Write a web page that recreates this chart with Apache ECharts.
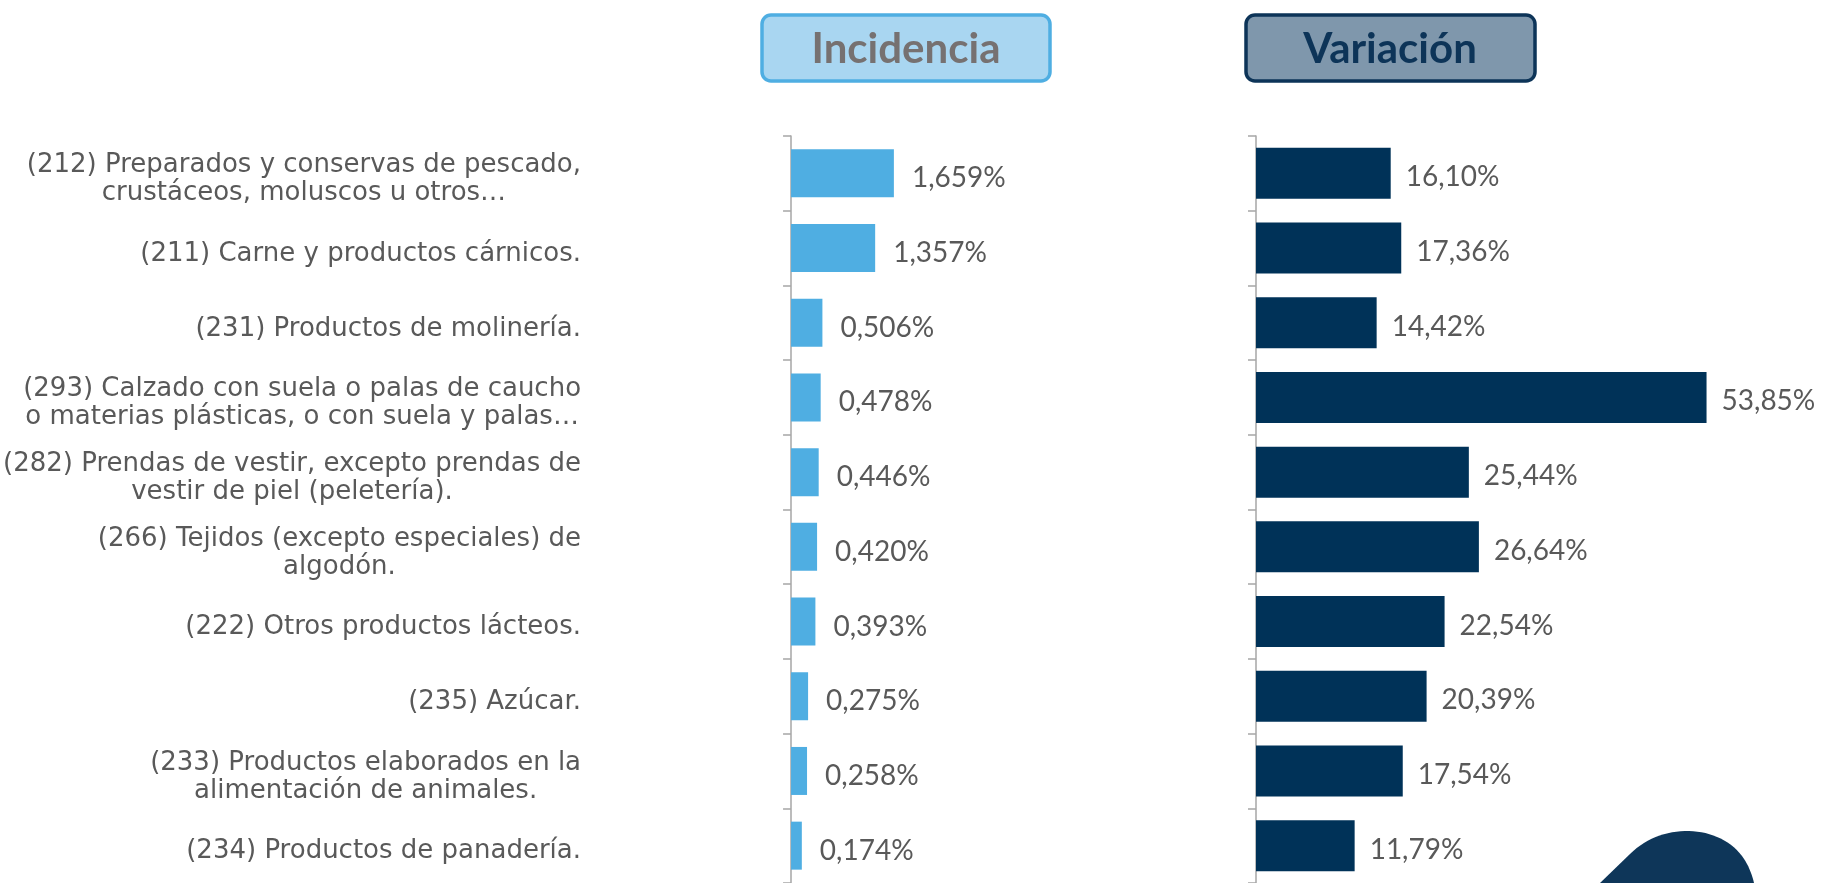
<!DOCTYPE html>
<html>
<head>
<meta charset="utf-8">
<title>Incidencia y Variación</title>
<script src="https://cdn.jsdelivr.net/npm/echarts@6/dist/echarts.min.js"></script>
<style>
	html, body { margin: 0; padding: 0; background: #fff; }
	#chart { width: 1823px; height: 883px; }
</style>
</head>
<body>
<div id="chart"></div>
<script>
	// datos
	var categorias = [
		"(212) Preparados y conservas de pescado,\ncrustáceos, moluscos u otros…",
		"(211) Carne y productos cárnicos.",
		"(231) Productos de molinería.",
		"(293) Calzado con suela o palas de caucho\no materias plásticas, o con suela y palas…",
		"(282) Prendas de vestir, excepto prendas de\nvestir de piel (peletería).",
		"(266) Tejidos (excepto especiales) de\nalgodón.",
		"(222) Otros productos lácteos.",
		"(235) Azúcar.",
		"(233) Productos elaborados en la\nalimentación de animales.",
		"(234) Productos de panadería."
	];
	var incidencia = [1.659, 1.357, 0.506, 0.478, 0.446, 0.420, 0.393, 0.275, 0.258, 0.174];
	var variacion = [16.10, 17.36, 14.42, 53.85, 25.44, 26.64, 22.54, 20.39, 17.54, 11.79];

	var fuenteCat = "'DejaVu Sans', sans-serif";
	var fuente = "Lato, 'Noto Sans', sans-serif";
	var gris = "#595959";

	function fmt(v, dec) {
		return v.toFixed(dec).replace(".", ",") + "%";
	}

	// cada linea centrada dentro del bloque
	function etiqueta(txt) {
		return txt.split("\n").map(function (l) { return "{c|" + l + "}"; }).join("\n");
	}

	// puntos de una curva bezier cubica (para la forma decorativa)
	function bezier(p0, p1, p2, p3, n) {
		var pts = [];
		for (var i = 0; i <= n; i++) {
			var t = i / n, u = 1 - t;
			pts.push([
				u * u * u * p0[0] + 3 * u * u * t * p1[0] + 3 * u * t * t * p2[0] + t * t * t * p3[0],
				u * u * u * p0[1] + 3 * u * u * t * p1[1] + 3 * u * t * t * p2[1] + t * t * t * p3[1]
			]);
		}
		return pts;
	}
	var forma = [[1600, 883]]
		.concat(bezier([1630, 854], [1662, 822], [1718, 824], [1742, 856], 30))
		.concat(bezier([1742, 856], [1748, 864], [1752, 874], [1754, 883], 10));

	var ejeCat = function (gridIndex, conLabel) {
		return {
			type: "category",
			gridIndex: gridIndex,
			inverse: true,
			data: categorias,
			axisLine: { show: true, lineStyle: { color: "#a6a6a6", width: 1.5 } },
			axisTick: { show: true, length: 8, lineStyle: { color: "#a6a6a6", width: 1.5 } },
			axisLabel: {
				show: conLabel,
				margin: 210,
				align: "right",
				padding: [12, 0, 0, 0],
				formatter: etiqueta,
				rich: {
					c: {
						align: "center",
						fontFamily: fuenteCat,
						fontSize: 26,
						lineHeight: 28,
						color: gris
					}
				}
			}
		};
	};

	var chart = echarts.init(document.getElementById("chart"));

	var option = {
		animation: false,
		grid: [
			{ left: 789, top: 136, width: 312, height: 750 },
			{ left: 1256, top: 136, width: 502, height: 750 }
		],
		xAxis: [
			{ type: "value", gridIndex: 0, min: 0, max: 5, show: false },
			{ type: "value", gridIndex: 1, min: 0, max: 60, show: false }
		],
		yAxis: [ejeCat(0, true), ejeCat(1, false)],
		series: [
			{
				name: "Incidencia",
				type: "bar",
				xAxisIndex: 0,
				yAxisIndex: 0,
				barWidth: 48,
				itemStyle: { color: "#4faee2" },
				label: {
					show: true,
					position: "right",
					distance: 18,
					offset: [0, 5],
					fontFamily: fuente,
					fontSize: 28,
					color: gris,
					formatter: function (p) { return fmt(p.value, 3); }
				},
				data: incidencia
			},
			{
				name: "Variación",
				type: "bar",
				xAxisIndex: 1,
				yAxisIndex: 1,
				barWidth: 51,
				itemStyle: { color: "#003258" },
				label: {
					show: true,
					position: "right",
					distance: 15,
					offset: [0, 4],
					fontFamily: fuente,
					fontSize: 28,
					color: gris,
					formatter: function (p) { return fmt(p.value, 2); }
				},
				data: variacion
			}
		],
		graphic: [
			// cabecera Incidencia
			{
				type: "rect",
				shape: { x: 762, y: 15, width: 288, height: 66, r: 9 },
				style: { fill: "#a9d6f1", stroke: "#4faee2", lineWidth: 3.5 }
			},
			{
				type: "text",
				x: 906, y: 49,
				style: {
					text: "Incidencia",
					fill: "#767171",
					font: "bold 42px " + fuente,
					align: "center",
					verticalAlign: "middle"
				}
			},
			// cabecera Variación
			{
				type: "rect",
				shape: { x: 1246, y: 15, width: 289, height: 66, r: 9 },
				style: { fill: "#7f97ac", stroke: "#0d3458", lineWidth: 3.5 }
			},
			{
				type: "text",
				x: 1390, y: 49,
				style: {
					text: "Variación",
					fill: "#0d3458",
					font: "bold 42px " + fuente,
					align: "center",
					verticalAlign: "middle"
				}
			},
			// forma decorativa abajo a la derecha
			{
				type: "polygon",
				shape: { points: forma },
				style: { fill: "#0e3659" }
			}
		]
	};

	chart.setOption(option);
</script>
</body>
</html>
